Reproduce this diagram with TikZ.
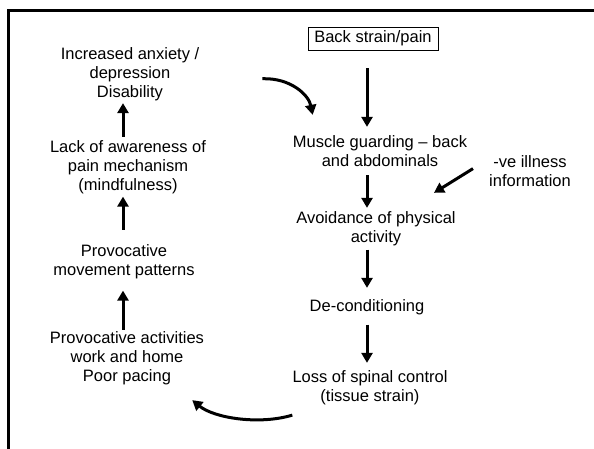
\documentclass[tikz,border=0pt]{standalone}
\usepackage{fontspec}
\setmainfont{Liberation Sans}
\usetikzlibrary{arrows.meta}
\begin{document}
\begin{tikzpicture}[x=1pt,y=-1pt,
  txt/.style={inner sep=0pt, align=center, anchor=base,
    font=\fontsize{16.5}{19}\selectfont},
  arr/.style={line width=3pt, -{Triangle[length=10pt,width=11pt]}},
  frameline/.style={line width=3pt}]
\useasboundingbox (0,0) rectangle (594,448);
\clip (0,0) rectangle (594,448);

% outer frame (top and left edges)
\draw[frameline] (8.5,470) -- (8.5,10) -- (620,10);

% right column (node positions are the baseline of the last line)
\node[draw, line width=0.8pt, minimum width=130pt, minimum height=23pt,
      inner sep=0pt, font=\fontsize{16.5}{19}\selectfont] (back) at (373,38.5) {Back strain/pain};
\node[txt] (mus) at (380,166) {Muscle guarding -- back\\and abdominals};
\node[txt] (ill) at (530,186) {-ve illness\\information};
\node[txt] (avo) at (376,242) {Avoidance of physical\\activity};
\node[txt] (dec) at (367,311) {De-conditioning};
\node[txt] (loss) at (370,401) {Loss of spinal control\\(tissue strain)};

% left column
\node[txt] (anx) at (130,97) {Increased anxiety /\\depression\\Disability};
\node[txt] (lack) at (128,190) {Lack of awareness of\\pain mechanism\\(mindfulness)};
\node[txt] (pmov) at (124,275) {Provocative\\movement patterns};
\node[txt] (pact) at (127,381) {Provocative activities\\work and home\\Poor pacing};

% straight connectors, right column
\draw[arr, shorten <=18pt, shorten >=8pt] (back.south -| dec.base) -- (mus.north -| dec.base);
\draw[arr, shorten <=9pt, shorten >=3pt] (mus.south -| dec.base) -- (avo.north -| dec.base);
\draw[arr, shorten <=4pt, shorten >=11pt] (avo.south -| dec.base) -- (dec.north);
\draw[arr, shorten <=10pt, shorten >=7pt] (dec.south) -- (loss.north -| dec.base);
\draw[arr] ([xshift=-16pt,yshift=2pt]ill.west) -- ([xshift=58pt,yshift=18pt]avo.north);

% straight connectors, left column
\draw[arr, shorten <=1pt, shorten >=12pt] ([xshift=-4pt]pact.north) -- ([xshift=-1pt]pmov.south);
\draw[arr, shorten <=14pt, shorten >=3pt] ([xshift=-1pt]pmov.north) -- ([xshift=-5pt]lack.south);
\draw[arr, shorten <=3pt, shorten >=2.5pt] ([xshift=-5pt]lack.north) -- ([xshift=-7pt]anx.south);

% curved connectors closing the loop
\draw[arr] ([xshift=63pt,yshift=-5pt]anx.east)
  .. controls +(28,-1) and +(-4,-20) .. ([xshift=20pt,yshift=20pt]mus.north west);
\draw[arr] ([yshift=-10.5pt]loss.south west)
  .. controls +(-33,10) and +(22,18) .. ([xshift=-12pt,yshift=-15.5pt]pact.south east);
\end{tikzpicture}
\end{document}
